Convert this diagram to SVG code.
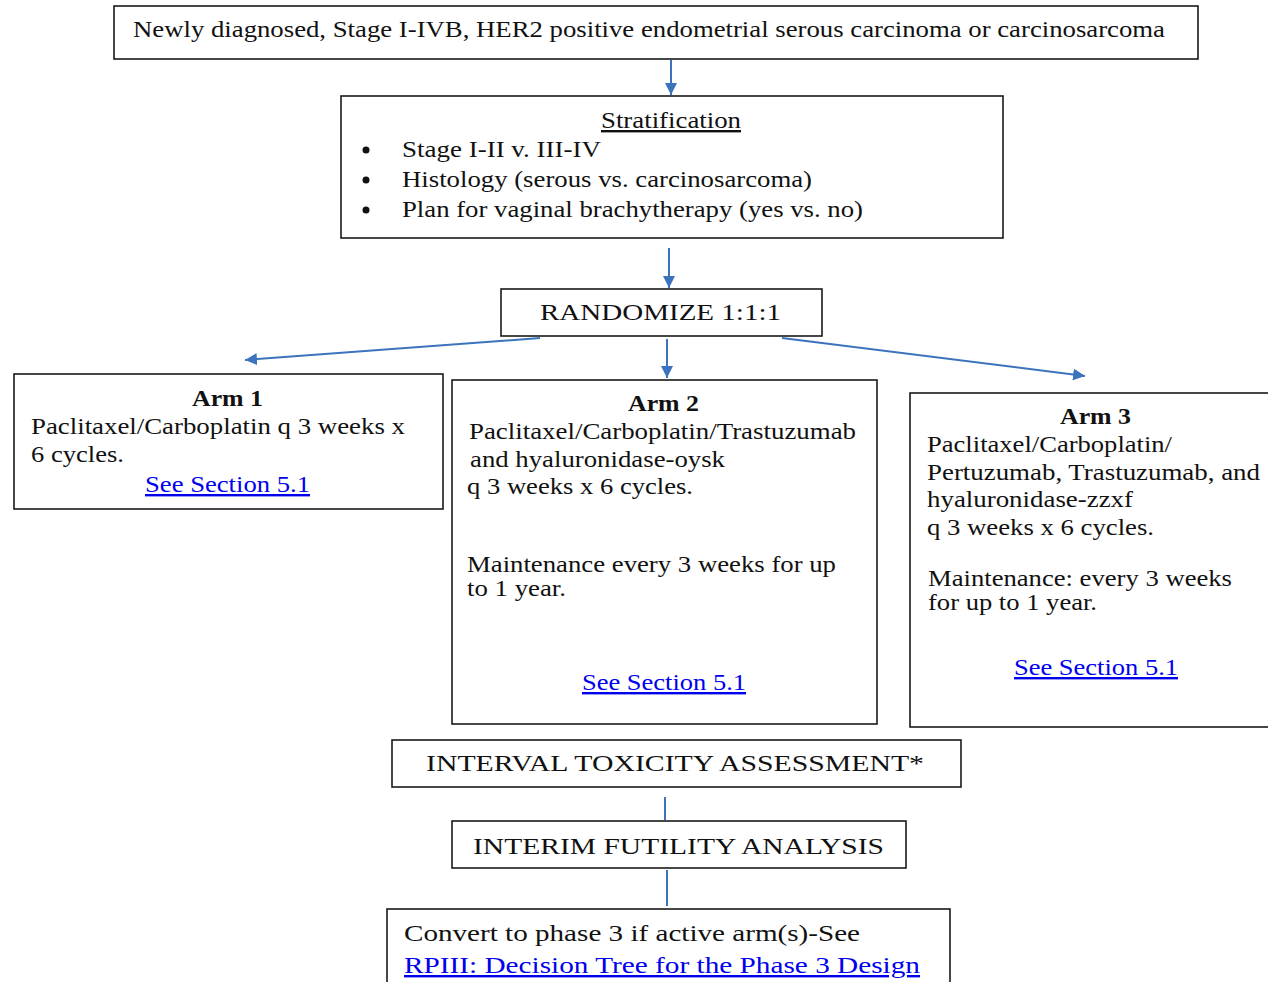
<svg xmlns="http://www.w3.org/2000/svg" width="1268" height="982" viewBox="0 0 1268 982">
<style>
.box{fill:#fff;stroke:#1a1a1a;stroke-width:1.6}
.t{font-family:"Liberation Serif","Times New Roman",serif;fill:#111;font-size:24px}
.b{font-weight:bold}
.lk{fill:#0000ee;text-decoration:underline}
.c{stroke:#3b74bd;stroke-width:2;fill:none}
</style>
<defs>
<marker id="ah" markerUnits="userSpaceOnUse" markerWidth="14" markerHeight="12" refX="12" refY="6" orient="auto">
<path d="M0,0 L12,6 L0,12 Z" fill="#3b74bd"/>
</marker>
</defs>
<rect width="1268" height="982" fill="#fff"/>
<g id="connectors">
<line class="c" x1="671" y1="60" x2="671" y2="95" marker-end="url(#ah)"/>
<line class="c" x1="669" y1="248" x2="669" y2="288" marker-end="url(#ah)"/>
<line class="c" x1="540" y1="338" x2="245" y2="360" marker-end="url(#ah)"/>
<line class="c" x1="667" y1="339" x2="667" y2="378" marker-end="url(#ah)"/>
<line class="c" x1="782" y1="338" x2="1085" y2="376" marker-end="url(#ah)"/>
<line class="c" x1="665" y1="797" x2="665" y2="820"/>
<line class="c" x1="667" y1="870" x2="667" y2="906"/>
</g>
<g id="n_top">
<rect class="box" x="114" y="6" width="1084" height="53"/>
<text class="t" x="133" y="37" textLength="1032" lengthAdjust="spacingAndGlyphs">Newly diagnosed, Stage I-IVB, HER2 positive endometrial serous carcinoma or carcinosarcoma</text>
</g>
<g id="n_strat">
<rect class="box" x="341" y="96" width="662" height="142"/>
<text class="t" x="601" y="128" textLength="140" lengthAdjust="spacingAndGlyphs" text-decoration="underline">Stratification</text>
<circle cx="366" cy="150" r="3.5" fill="#111"/>
<circle cx="366" cy="180" r="3.5" fill="#111"/>
<circle cx="366" cy="210" r="3.5" fill="#111"/>
<text class="t" x="402" y="157" textLength="199" lengthAdjust="spacingAndGlyphs">Stage I-II v. III-IV</text>
<text class="t" x="402" y="187" textLength="410" lengthAdjust="spacingAndGlyphs">Histology (serous vs. carcinosarcoma)</text>
<text class="t" x="402" y="217" textLength="461" lengthAdjust="spacingAndGlyphs">Plan for vaginal brachytherapy (yes vs. no)</text>
</g>
<g id="n_rand">
<rect class="box" x="501" y="289" width="321" height="47"/>
<text class="t" x="540" y="320" font-size="26" textLength="241" lengthAdjust="spacingAndGlyphs">RANDOMIZE 1:1:1</text>
</g>
<g id="n_arm1">
<rect class="box" x="14" y="374" width="429" height="135"/>
<text class="t b" x="192" y="406" textLength="71" lengthAdjust="spacingAndGlyphs">Arm 1</text>
<text class="t" x="31" y="434" textLength="374" lengthAdjust="spacingAndGlyphs">Paclitaxel/Carboplatin q 3 weeks x</text>
<text class="t" x="31" y="462" textLength="93" lengthAdjust="spacingAndGlyphs">6 cycles.</text>
<text class="t lk" x="145" y="492" textLength="165" lengthAdjust="spacingAndGlyphs">See Section 5.1</text>
</g>
<g id="n_arm2">
<rect class="box" x="452" y="380" width="425" height="344"/>
<text class="t b" x="628" y="411" textLength="71" lengthAdjust="spacingAndGlyphs">Arm 2</text>
<text class="t" x="469" y="439" textLength="387" lengthAdjust="spacingAndGlyphs">Paclitaxel/Carboplatin/Trastuzumab</text>
<text class="t" x="470" y="467" textLength="255" lengthAdjust="spacingAndGlyphs">and hyaluronidase-oysk</text>
<text class="t" x="467" y="494" font-size="25" textLength="226" lengthAdjust="spacingAndGlyphs">q 3 weeks x 6 cycles.</text>
<text class="t" x="467" y="572" font-size="26" textLength="369" lengthAdjust="spacingAndGlyphs">Maintenance every 3 weeks for up</text>
<text class="t" x="467" y="596" font-size="26" textLength="99" lengthAdjust="spacingAndGlyphs">to 1 year.</text>
<text class="t lk" x="582" y="690" textLength="164" lengthAdjust="spacingAndGlyphs">See Section 5.1</text>
</g>
<g id="n_arm3">
<rect class="box" x="910" y="393" width="370" height="334"/>
<text class="t b" x="1060" y="424" textLength="71" lengthAdjust="spacingAndGlyphs">Arm 3</text>
<text class="t" x="927" y="452" textLength="245" lengthAdjust="spacingAndGlyphs">Paclitaxel/Carboplatin/</text>
<text class="t" x="927" y="480" textLength="333" lengthAdjust="spacingAndGlyphs">Pertuzumab, Trastuzumab, and</text>
<text class="t" x="927" y="507" textLength="206" lengthAdjust="spacingAndGlyphs">hyaluronidase-zzxf</text>
<text class="t" x="927" y="535" textLength="227" lengthAdjust="spacingAndGlyphs">q 3 weeks x 6 cycles.</text>
<text class="t" x="928" y="586" font-size="26" textLength="304" lengthAdjust="spacingAndGlyphs">Maintenance: every 3 weeks</text>
<text class="t" x="928" y="610" font-size="26" textLength="169" lengthAdjust="spacingAndGlyphs">for up to 1 year.</text>
<text class="t lk" x="1014" y="675" textLength="164" lengthAdjust="spacingAndGlyphs">See Section 5.1</text>
</g>
<g id="n_interval">
<rect class="box" x="392" y="740" width="569" height="47"/>
<text class="t" x="426" y="771" font-size="26" textLength="498" lengthAdjust="spacingAndGlyphs">INTERVAL TOXICITY ASSESSMENT*</text>
</g>
<g id="n_interim">
<rect class="box" x="452" y="821" width="454" height="47"/>
<text class="t" x="473" y="854" font-size="26" textLength="411" lengthAdjust="spacingAndGlyphs">INTERIM FUTILITY ANALYSIS</text>
</g>
<g id="n_convert">
<rect class="box" x="387" y="909" width="563" height="80"/>
<text class="t" x="404" y="941" font-size="25" textLength="456" lengthAdjust="spacingAndGlyphs">Convert to phase 3 if active arm(s)-See</text>
<text class="t lk" x="404" y="973" font-size="25" textLength="516" lengthAdjust="spacingAndGlyphs">RPIII: Decision Tree for the Phase 3 Design</text>
</g>
</svg>
